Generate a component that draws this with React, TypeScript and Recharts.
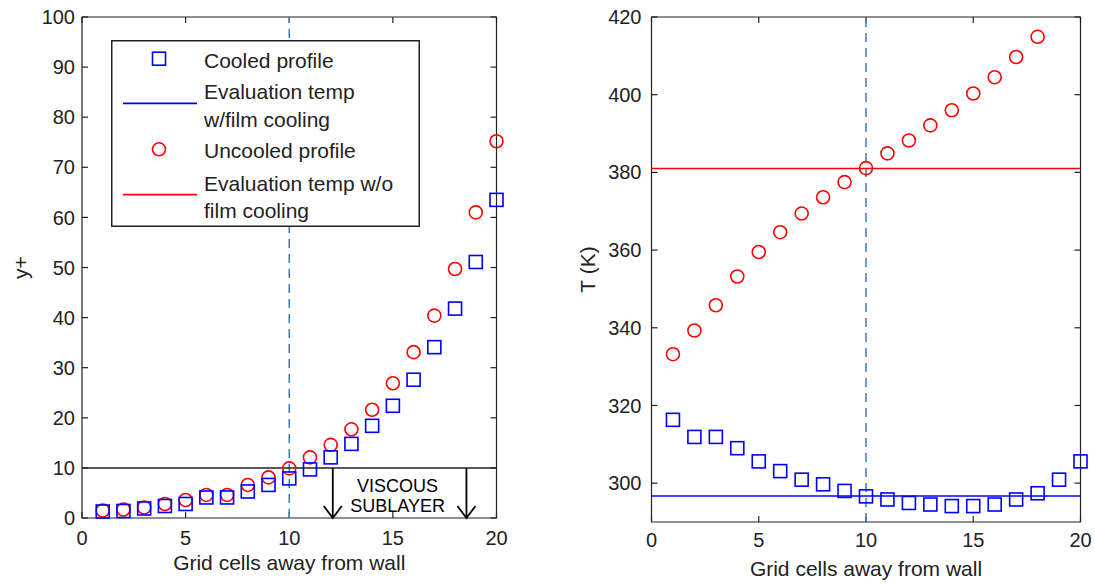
import React from "react";
import { ScatterChart, Scatter, XAxis, YAxis, ReferenceLine, ReferenceArea, Legend } from "recharts";

// grid cell index away from the wall
const cells = [1, 2, 3, 4, 5, 6, 7, 8, 9, 10, 11, 12, 13, 14, 15, 16, 17, 18, 19, 20];
const uncooledTempCells = [1, 2, 3, 4, 5, 6, 7, 8, 9, 10, 11, 12, 13, 14, 15, 16, 17, 18];

// left panel: y+
const yPlusCooled = [1.3, 1.4, 1.9, 2.4, 2.8, 4.1, 4.1, 5.3, 6.6, 7.9, 9.7, 12.1, 14.8, 18.4, 22.4, 27.6, 34.1, 41.8, 51.1, 63.5];
const yPlusUncooled = [1.5, 1.7, 2.1, 2.8, 3.6, 4.6, 4.6, 6.6, 8.1, 9.9, 12.1, 14.6, 17.7, 21.6, 26.9, 33.1, 40.4, 49.7, 61.0, 75.2];

// right panel: T (K)
const tempCooled = [316.3, 311.9, 311.9, 309.0, 305.6, 303.1, 300.9, 299.7, 298.0, 296.6, 295.8, 294.9, 294.5, 294.1, 294.1, 294.5, 295.8, 297.4, 300.9, 305.6];
const tempUncooled = [333.2, 339.3, 345.8, 353.2, 359.5, 364.6, 369.4, 373.6, 377.5, 381.1, 384.9, 388.2, 392.1, 396.0, 400.3, 404.5, 409.7, 414.9];

const cellTicks = [0, 5, 10, 15, 20];
const yPlusTicks = [0, 10, 20, 30, 40, 50, 60, 70, 80, 90, 100];
const tempTicks = [300, 320, 340, 360, 380, 400, 420];
const cellDomain = [0, 20];
const yPlusDomain = [0, 100];
const tempDomain = [290, 420];

const evalCell = 10;
const yPlusWall = 10;
const evalTempCooled = 296.7;
const evalTempUncooled = 381.0;
const sublayerArrows = [12.1, 18.55];

const legendItems = [
  { kind: "square", lines: ["Cooled profile"] },
  { kind: "blueLine", lines: ["Evaluation temp", "w/film cooling"] },
  { kind: "circle", lines: ["Uncooled profile"] },
  { kind: "redLine", lines: ["Evaluation temp w/o", "film cooling"] },
];

const BLUE = "#0000ff";
const RED = "#ff0000";
const DASH = "#3b78c4";
const INK = "#222";
const FONT = "'Liberation Sans', Arial, sans-serif";
const TICK = 6;

const toPoints = (xs: number[], ys: number[]) => xs.map((x, i) => ({ x, y: ys[i] }));

const Square = (p: any) => (
  <rect x={p.cx - 6.5} y={p.cy - 6.5} width={13} height={13} fill="none" stroke={BLUE} strokeWidth={1.6} />
);
const Ring = (p: any) => <circle cx={p.cx} cy={p.cy} r={6.5} fill="none" stroke={RED} strokeWidth={1.6} />;

const Arrow = (p: any) => (
  <g>
    <line x1={p.x1} y1={p.y1} x2={p.x2} y2={p.y2} stroke="#000" strokeWidth={1.8} />
    <path d={`M${p.x2 - 9},${p.y2 - 12}L${p.x2},${p.y2}L${p.x2 + 9},${p.y2 - 12}`} fill="none" stroke="#000" strokeWidth={1.8} />
  </g>
);

// inward tick marks on both ends of a full-span reference line (MATLAB box style)
const VTick = (p: any) => {
  const top = Math.min(p.y1, p.y2);
  const bot = Math.max(p.y1, p.y2);
  return (
    <g stroke={INK} strokeWidth={1.2}>
      <line x1={p.x1} x2={p.x1} y1={top} y2={top + TICK} />
      <line x1={p.x1} x2={p.x1} y1={bot} y2={bot - TICK} />
    </g>
  );
};
const HTick = (p: any) => {
  const l = Math.min(p.x1, p.x2);
  const r = Math.max(p.x1, p.x2);
  return (
    <g stroke={INK} strokeWidth={1.2}>
      <line x1={l} x2={l + TICK} y1={p.y1} y2={p.y1} />
      <line x1={r} x2={r - TICK} y1={p.y1} y2={p.y1} />
    </g>
  );
};

const tickStyle = { fontSize: 20, fill: INK, fontFamily: FONT };

function LegendBox() {
  const rowY = [20.7, 51.7, 79, 110, 143.3, 170];
  let row = 0;
  return (
    <svg width={309} height={187} style={{ display: "block" }}>
      <rect x={0.75} y={0.75} width={307.5} height={185.5} fill="#fff" stroke={INK} strokeWidth={1.5} />
      {legendItems.map((item) => {
        const ys = item.lines.map(() => rowY[row++]);
        const mid = (ys[0] + ys[ys.length - 1]) / 2 + (ys.length > 1 ? -2 : 0);
        let marker = null;
        if (item.kind === "square") marker = <rect x={41.5} y={ys[0] - 8.5} width={13} height={13} fill="none" stroke={BLUE} strokeWidth={1.6} />;
        if (item.kind === "circle") marker = <circle cx={48} cy={ys[0] - 0.7} r={6.5} fill="none" stroke={RED} strokeWidth={1.6} />;
        if (item.kind === "blueLine") marker = <line x1={12} x2={86} y1={mid} y2={mid} stroke={BLUE} strokeWidth={1.6} />;
        if (item.kind === "redLine") marker = <line x1={12} x2={86} y1={mid} y2={mid} stroke={RED} strokeWidth={1.6} />;
        return (
          <g key={item.lines[0]}>
            {marker}
            {item.lines.map((t, i) => (
              <text key={t} x={93} y={ys[i]} dominantBaseline="central" fontSize={21} fill={INK} fontFamily={FONT}>
                {t}
              </text>
            ))}
          </g>
        );
      })}
    </svg>
  );
}

const xTitle = (dy: number, fallbackX: number, fallbackY: number) => (p: any) => {
  const vb = p.viewBox || {};
  const cx = vb.width != null ? vb.x + vb.width / 2 : fallbackX;
  const cy = vb.y != null ? vb.y + dy : fallbackY;
  return (
    <text x={cx} y={cy} textAnchor="middle" dominantBaseline="central" fontSize={21} fill={INK} fontFamily={FONT}>
      Grid cells away from wall
    </text>
  );
};

const yTitle = (text: string, dx: number, fallbackY: number) => (p: any) => {
  const vb = p.viewBox || {};
  const cx = (vb.x ?? 0) + dx;
  const cy = vb.height != null ? vb.y + vb.height / 2 : fallbackY;
  return (
    <text x={cx} y={cy} transform={`rotate(-90 ${cx} ${cy})`} textAnchor="middle" dominantBaseline="central" fontSize={21} fill={INK} fontFamily={FONT}>
      {text}
    </text>
  );
};

function frame(yDomain: number[], yTicks: number[]) {
  return [
    <ReferenceArea key="box" xAxisId="b" yAxisId="l" x1={cellDomain[0]} x2={cellDomain[1]} y1={yDomain[0]} y2={yDomain[1]}
      fill="none" stroke={INK} strokeWidth={1.2} fillOpacity={0} />,
    ...cellTicks.map((t) => <ReferenceLine key={"vx" + t} xAxisId="b" yAxisId="l" x={t} shape={VTick} />),
    ...yTicks.map((t) => <ReferenceLine key={"hy" + t} xAxisId="b" yAxisId="l" y={t} shape={HTick} />),
  ];
}

function YPlusChart() {
  return (
    <ScatterChart width={530} height={584} margin={{ top: 17, right: 33.5, bottom: 6, left: 0 }}>
      <XAxis xAxisId="b" type="number" dataKey="x" domain={cellDomain} ticks={cellTicks} interval={0} height={60}
        axisLine={false} tickLine={false} tickSize={0} tickMargin={13} tick={tickStyle}
        label={{ content: xTitle(44, 289, 562) }} />
      <YAxis yAxisId="l" type="number" dataKey="y" domain={yPlusDomain} ticks={yPlusTicks} interval={0} width={82}
        axisLine={false} tickLine={false} tickSize={0} tickMargin={7} tick={tickStyle}
        label={{ content: yTitle("y+", 20, 267) }} />
      {frame(yPlusDomain, yPlusTicks)}
      <ReferenceLine xAxisId="b" yAxisId="l" x={evalCell} stroke={DASH} strokeWidth={1.5} strokeDasharray="9 6" />
      <ReferenceLine xAxisId="b" yAxisId="l" y={yPlusWall} stroke={INK} strokeWidth={1.5} />
      {sublayerArrows.map((x) => (
        <ReferenceLine key={x} xAxisId="b" yAxisId="l" segment={[{ x, y: yPlusWall }, { x, y: 0 }]} shape={Arrow} />
      ))}
      <ReferenceArea xAxisId="b" yAxisId="l" x1={sublayerArrows[0]} x2={sublayerArrows[1]} y1={0} y2={yPlusWall}
        fill="none" stroke="none"
        label={{
          content: (p: any) => {
            const vb = p.viewBox || { x: 333, y: 468, width: 134 };
            const cx = vb.x + vb.width / 2 - 2;
            return (
              <g fontSize={18} fill="#000" fontFamily={FONT} textAnchor="middle">
                <text x={cx} y={vb.y + 18} dominantBaseline="central">VISCOUS</text>
                <text x={cx} y={vb.y + 38} dominantBaseline="central">SUBLAYER</text>
              </g>
            );
          },
        }} />
      <Scatter xAxisId="b" yAxisId="l" name="Uncooled profile" data={toPoints(cells, yPlusUncooled)} shape={Ring} isAnimationActive={false} />
      <Scatter xAxisId="b" yAxisId="l" name="Cooled profile" data={toPoints(cells, yPlusCooled)} shape={Square} isAnimationActive={false} />
      <Legend layout="vertical" align="center" verticalAlign="middle"
        wrapperStyle={{ position: "absolute", left: 111, top: 40, width: 309, height: 187 }}
        content={() => <LegendBox />} />
    </ScatterChart>
  );
}

function TempChart() {
  return (
    <ScatterChart width={535} height={584} margin={{ top: 17, right: 14.5, bottom: 6, left: 0 }}>
      <XAxis xAxisId="b" type="number" dataKey="x" domain={cellDomain} ticks={cellTicks} interval={0} height={56}
        axisLine={false} tickLine={false} tickSize={0} tickMargin={11} tick={tickStyle}
        label={{ content: xTitle(46, 306, 568) }} />
      <YAxis yAxisId="l" type="number" dataKey="y" domain={tempDomain} ticks={tempTicks} interval={0} width={91.5}
        axisLine={false} tickLine={false} tickSize={0} tickMargin={10} tick={tickStyle}
        label={{ content: yTitle("T (K)", 27, 269) }} />
      {frame(tempDomain, tempTicks)}
      <ReferenceLine xAxisId="b" yAxisId="l" x={evalCell} stroke={DASH} strokeWidth={1.5} strokeDasharray="9 6" />
      <ReferenceLine xAxisId="b" yAxisId="l" y={evalTempUncooled} stroke={RED} strokeWidth={1.5} />
      <ReferenceLine xAxisId="b" yAxisId="l" y={evalTempCooled} stroke={BLUE} strokeWidth={1.5} />
      <Scatter xAxisId="b" yAxisId="l" name="Uncooled profile" data={toPoints(uncooledTempCells, tempUncooled)} shape={Ring} isAnimationActive={false} />
      <Scatter xAxisId="b" yAxisId="l" name="Cooled profile" data={toPoints(cells, tempCooled)} shape={Square} isAnimationActive={false} />
    </ScatterChart>
  );
}

export default function App() {
  return (
    <div style={{ position: "absolute", left: 0, top: 0, width: 1095, height: 584, background: "#fff", fontFamily: FONT }}>
      <div style={{ position: "absolute", left: 0, top: 0 }}>
        <YPlusChart />
      </div>
      <div style={{ position: "absolute", left: 560, top: 0 }}>
        <TempChart />
      </div>
    </div>
  );
}
